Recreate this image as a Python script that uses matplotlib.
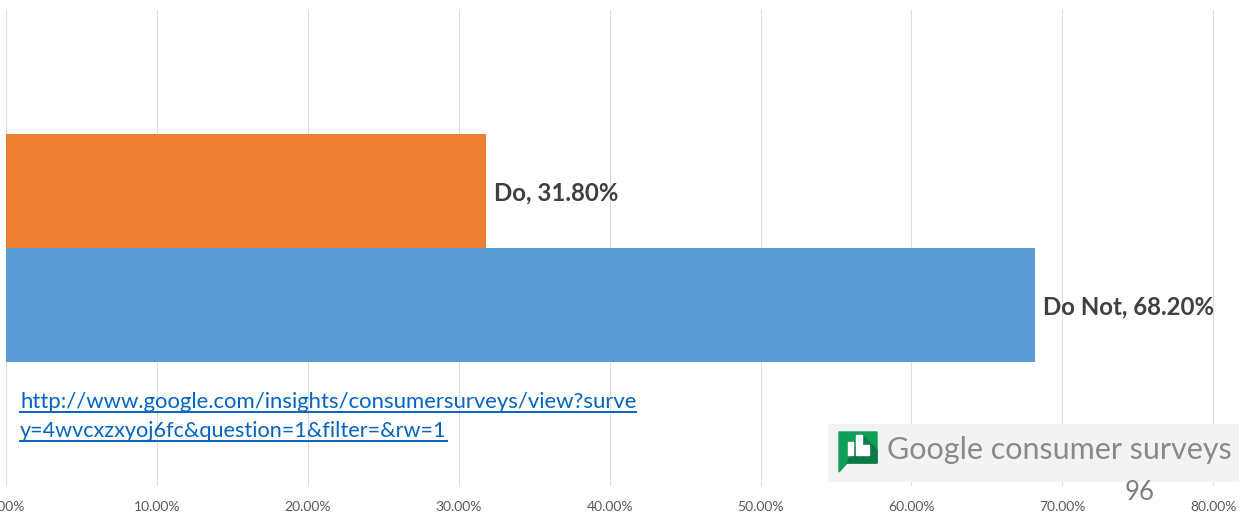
import matplotlib
matplotlib.use('Agg')
import matplotlib.pyplot as plt
from matplotlib.patches import Rectangle, Polygon

plt.rcParams['font.family'] = ['Lato', 'DejaVu Sans']

W, H = 1247, 514

answers = ['Do Not', 'Do']
values = [68.2, 31.8]
bar_colors = ['#5B9BD5', '#ED7D31']
ticks = [0, 10, 20, 30, 40, 50, 60, 70, 80]
tick_labels = ['0.00%', '10.00%', '20.00%', '30.00%', '40.00%', '50.00%', '60.00%', '70.00%', '80.00%']
link_lines = ['http://www.google.com/insights/consumersurveys/view?surve',
              'y=4wvcxzxyoj6fc&question=1&filter=&rw=1']


def px_axes(x0, y0, x1, y1):
    # pixel box (top-left origin) -> figure axes
    return fig.add_axes([x0 / W, 1 - y1 / H, (x1 - x0) / W, (y1 - y0) / H])


fig = plt.figure(figsize=(W / 100, H / 100), dpi=100, facecolor='white')

x_right = 1240
ax = px_axes(6, 10, x_right, 486)
ax.set_xlim(0, (x_right - 6) / 15.09)
ax.set_ylim(-1.59, 2.59)
ax.set_axisbelow(True)
ax.xaxis.grid(True, color='#DDDDDD', linewidth=0.8)
ax.barh(range(len(values)), values, height=1.0, color=bar_colors)
for i in range(len(values)):
    ax.text(values[i] + 0.55, i - 0.018, f'{answers[i]}, {values[i]:.2f}%', va='center', ha='left',
            fontsize=17.3, fontweight='bold', color='#404040')
for s in ax.spines.values():
    s.set_visible(False)
ax.set_yticks([])
ax.set_xticks(ticks)
ax.set_xticklabels(tick_labels, fontsize=10, color='#595959')
ax.tick_params(axis='x', length=0, pad=11)
for lab in ax.get_xticklabels():
    lab.set_clip_on(False)

# link text
baselines = [408, 437]
underlines = [412, 440.5]
link_sizes = [15.9, 15.6]
for i in range(len(link_lines)):
    t = fig.text(20 / W, 1 - baselines[i] / H, link_lines[i], fontsize=link_sizes[i], color='#0563C1',
                 va='baseline', ha='left')
    bb = t.get_window_extent(fig.canvas.get_renderer())
    fig.add_artist(plt.Line2D([20 / W, bb.x1 / W], [1 - underlines[i] / H] * 2, color='#0563C1', linewidth=1.4))

# logo box
logo = px_axes(828, 424, 1239, 482)
logo.set_xlim(828, 1239)
logo.set_ylim(482, 424)
logo.axis('off')
logo.add_patch(Rectangle((828, 424), 411, 58, color='#F3F3F3'))
logo.add_patch(Polygon([(839, 432), (877, 432), (877, 463), (847, 463), (839, 472)], color='#0F9D58'))
logo.add_patch(Polygon([(862, 435), (877, 450), (877, 463), (847, 463)], color='#0B7A45'))
for bx, by, bw in [(848, 442, 5), (856, 435, 6), (863, 445, 6)]:
    logo.add_patch(Rectangle((bx, by), bw, 455 - by, color='white'))
logo.text(887, 459, 'Google consumer surveys', fontsize=22.0, color='#8A8A8E', va='baseline', ha='left')

fig.text(1140 / W, 1 - 492 / H, '96', fontsize=18.5, color='#7F7F7F', va='center', ha='center')

fig.savefig('out.png', dpi=100)
